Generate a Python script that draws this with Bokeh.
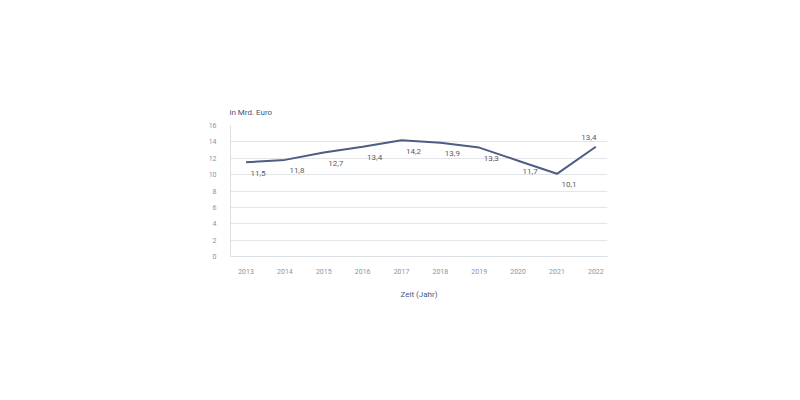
from bokeh.plotting import figure
from bokeh.models import ColumnDataSource, FixedTicker, Range1d
from bokeh.core.properties import value
from bokeh.embed import file_html
from bokeh.resources import INLINE

years = [2013, 2014, 2015, 2016, 2017, 2018, 2019, 2020, 2021, 2022]
values = [11.5, 11.8, 12.7, 13.4, 14.2, 13.9, 13.3, 11.7, 10.1, 13.4]
y_ticks = [0, 2, 4, 6, 8, 10, 12, 14, 16]
y_title = "in Mrd. Euro"
x_title = "Zeit (Jahr)"

labels = [f"{v:.1f}".replace(".", ",") for v in values]
n = len(years)
x_off = [12] * (n - 1) + [-7]
y_off = [11] * (n - 1) + [-9]

src = ColumnDataSource(dict(x=years, y=values, lab=labels, xo=x_off, yo=y_off))

FONT = "Roboto"
p = figure(width=784, height=384, output_backend="svg", toolbar_location=None,
           x_range=Range1d(2012.6, 2022.3), y_range=Range1d(0, 16),
           min_border_left=230, min_border_right=177, min_border_top=125,
           min_border_bottom=128, title=y_title)
p.outline_line_color = None
p.background_fill_color = "white"

p.title.text_font = FONT
p.title.text_font_size = "8px"
p.title.text_font_style = "normal"
p.title.text_color = "#44557a"
p.title.align = "left"
p.title.offset = -1
p.title.standoff = 17

p.line("x", "y", source=src, line_color="#4d5d84", line_width=2)
p.text("x", "y", text="lab", source=src, x_offset="xo", y_offset="yo",
       text_font=value(FONT), text_font_size="8px", text_color="#555b66",
       text_align="center", text_baseline="middle")

p.xaxis.ticker = FixedTicker(ticks=years)
p.xaxis.major_label_overrides = {y: str(y) for y in years}
p.yaxis.ticker = FixedTicker(ticks=y_ticks)
for ax in (p.xaxis, p.yaxis):
    ax.major_tick_line_color = None
    ax.minor_tick_line_color = None
    ax.axis_line_color = "#dcdfe4"
    ax.major_label_text_font = FONT
    ax.major_label_text_font_size = "7px"
    ax.major_label_text_color = "#8a92a6"
p.xaxis.major_label_standoff = 6
p.yaxis.major_label_standoff = 8
p.xaxis.axis_label = x_title
p.xaxis.axis_label_text_font = FONT
p.xaxis.axis_label_text_font_size = "8px"
p.xaxis.axis_label_text_font_style = "normal"
p.xaxis.axis_label_text_color = "#3a5a8c"
p.xaxis.axis_label_standoff = 13

p.xgrid.grid_line_color = None
p.ygrid.grid_line_color = "#e3e5e8"
p.ygrid.grid_line_width = 1

open("out.html", "w").write(file_html(p, INLINE))
